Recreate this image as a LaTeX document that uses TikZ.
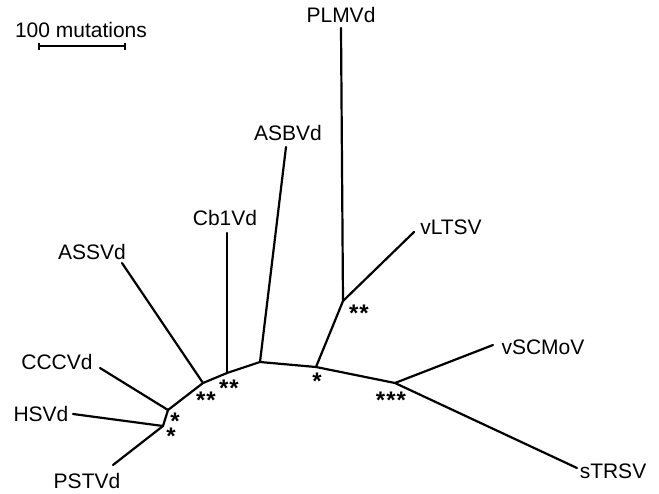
\documentclass[tikz,border=0pt]{standalone}
\usepackage{fontspec}
\setmainfont{Liberation Sans}
\newcommand{\astr}[1]{\raisebox{-0.58em}[0.16em][0.16em]{#1}}
\begin{document}
\begin{tikzpicture}[x=1pt,y=-1pt,
  branch/.style={line width=2.2pt, line cap=round, line join=round},
  lbl/.style={font=\fontsize{21}{25}\selectfont, inner sep=0pt},
  star/.style={font=\bfseries\fontsize{24}{25}\selectfont, inner sep=0pt, anchor=center}]
\useasboundingbox (0,0) rectangle (659,493);
% scale bar
\coordinate (sbL) at (39,46);
\coordinate (sbR) at (125,46);
\draw[line width=1.5pt] (sbL) -- (sbR);
\draw[line width=1.5pt] ([yshift=-3.5pt]sbL) -- ([yshift=3.5pt]sbL);
\draw[line width=1.5pt] ([yshift=-3.5pt]sbR) -- ([yshift=3.5pt]sbR);
\node[lbl] (sblabel) at (81,30) {100 mutations};
% internal nodes
\coordinate (A) at (163,426);
\coordinate (B) at (168,410);
\coordinate (C) at (203,383);
\coordinate (D) at (227,373);
\coordinate (E) at (260,362);
\coordinate (F) at (316,367);
\coordinate (G) at (343,301);
\coordinate (H) at (395,383);
% leaf ends
\coordinate (pstE) at (113,465);
\coordinate (hsvE) at (73,414);
\coordinate (cccE) at (100,368);
\coordinate (assE) at (122,263);
\coordinate (cbE) at (227,233);
\coordinate (asbE) at (286,147);
\coordinate (plmE) at (341,28);
\coordinate (vltE) at (414,232);
\coordinate (vscE) at (493,345);
\coordinate (stE) at (577,468);
% branches
\draw[branch] (pstE) -- (A) -- (B) -- (C) -- (D) -- (E) -- (F) -- (H) -- (stE);
\draw[branch] (A) -- (hsvE);
\draw[branch] (B) -- (cccE);
\draw[branch] (C) -- (assE);
\draw[branch] (D) -- (cbE);
\draw[branch] (E) -- (asbE);
\draw[branch] (F) -- (G) -- (plmE);
\draw[branch] (G) -- (vltE);
\draw[branch] (H) -- (vscE);
% labels
\node[lbl] (pst) at (87,481) {PSTVd};
\node[lbl] (hsv) at (41,414) {HSVd};
\node[lbl] (ccc) at (57,362) {CCCVd};
\node[lbl] (ass) at (92,252) {ASSVd};
\node[lbl] (cb) at (225,218) {Cb1Vd};
\node[lbl] (asb) at (288,133) {ASBVd};
\node[lbl] (plm) at (341,15) {PLMVd};
\node[lbl] (vlt) at (451,227) {vLTSV};
\node[lbl] (vsc) at (543,347) {vSCMoV};
\node[lbl] (st) at (613,471) {sTRSV};
% support asterisks
\node[star] (sB) at (175,416) {\astr{*}};
\node[star] (sA) at (171,431) {\astr{*}};
\node[star] (sC) at (206,395) {\astr{*\kern1pt*}};
\node[star] (sD) at (229,383) {\astr{*\kern1pt*}};
\node[star] (sF) at (317,376) {\astr{*}};
\node[star] (sG) at (359,308) {\astr{*\kern1pt*}};
\node[star] (sH) at (391,395) {\astr{*\kern1pt*\kern1pt*}};
\end{tikzpicture}
\end{document}
